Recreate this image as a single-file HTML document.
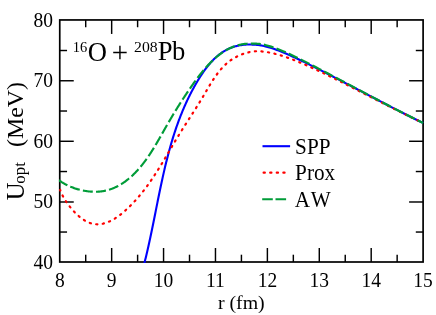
<!DOCTYPE html>
<html><head><meta charset="utf-8"><title>plot</title>
<style>
html,body{margin:0;padding:0;background:#fff;}
body{width:436px;height:315px;overflow:hidden;}
svg{display:block;stroke:none;will-change:transform;font-family:"Liberation Serif",serif;fill:#000;}

</style></head><body>
<svg width="436" height="315" viewBox="0 0 436 315">
<rect x="0" y="0" width="436" height="315" fill="#fff"/>
<defs><clipPath id="c"><rect x="58.85" y="19.05" width="365.15" height="243.85"/></clipPath></defs>
<g stroke="#000" stroke-width="1.45" fill="none">
<line x1="85.70" y1="19.95" x2="85.70" y2="27.25"/>
<line x1="85.70" y1="262.00" x2="85.70" y2="254.70"/>
<line x1="111.66" y1="19.95" x2="111.66" y2="33.95"/>
<line x1="111.66" y1="262.00" x2="111.66" y2="248.00"/>
<line x1="137.61" y1="19.95" x2="137.61" y2="27.25"/>
<line x1="137.61" y1="262.00" x2="137.61" y2="254.70"/>
<line x1="163.56" y1="19.95" x2="163.56" y2="33.95"/>
<line x1="163.56" y1="262.00" x2="163.56" y2="248.00"/>
<line x1="189.52" y1="19.95" x2="189.52" y2="27.25"/>
<line x1="189.52" y1="262.00" x2="189.52" y2="254.70"/>
<line x1="215.47" y1="19.95" x2="215.47" y2="33.95"/>
<line x1="215.47" y1="262.00" x2="215.47" y2="248.00"/>
<line x1="241.43" y1="19.95" x2="241.43" y2="27.25"/>
<line x1="241.43" y1="262.00" x2="241.43" y2="254.70"/>
<line x1="267.38" y1="19.95" x2="267.38" y2="33.95"/>
<line x1="267.38" y1="262.00" x2="267.38" y2="248.00"/>
<line x1="293.33" y1="19.95" x2="293.33" y2="27.25"/>
<line x1="293.33" y1="262.00" x2="293.33" y2="254.70"/>
<line x1="319.29" y1="19.95" x2="319.29" y2="33.95"/>
<line x1="319.29" y1="262.00" x2="319.29" y2="248.00"/>
<line x1="345.24" y1="19.95" x2="345.24" y2="27.25"/>
<line x1="345.24" y1="262.00" x2="345.24" y2="254.70"/>
<line x1="371.19" y1="19.95" x2="371.19" y2="33.95"/>
<line x1="371.19" y1="262.00" x2="371.19" y2="248.00"/>
<line x1="397.15" y1="19.95" x2="397.15" y2="27.25"/>
<line x1="397.15" y1="262.00" x2="397.15" y2="254.70"/>
<line x1="59.75" y1="232.04" x2="67.05" y2="232.04"/>
<line x1="423.10" y1="232.04" x2="415.80" y2="232.04"/>
<line x1="59.75" y1="201.99" x2="73.75" y2="201.99"/>
<line x1="423.10" y1="201.99" x2="409.10" y2="201.99"/>
<line x1="59.75" y1="171.53" x2="67.05" y2="171.53"/>
<line x1="423.10" y1="171.53" x2="415.80" y2="171.53"/>
<line x1="59.75" y1="141.28" x2="73.75" y2="141.28"/>
<line x1="423.10" y1="141.28" x2="409.10" y2="141.28"/>
<line x1="59.75" y1="111.02" x2="67.05" y2="111.02"/>
<line x1="423.10" y1="111.02" x2="415.80" y2="111.02"/>
<line x1="59.75" y1="80.76" x2="73.75" y2="80.76"/>
<line x1="423.10" y1="80.76" x2="409.10" y2="80.76"/>
<line x1="59.75" y1="50.51" x2="67.05" y2="50.51"/>
<line x1="423.10" y1="50.51" x2="415.80" y2="50.51"/>
</g>
<rect x="59.75" y="19.95" width="363.35" height="242.05" fill="none" stroke="#000" stroke-width="1.7"/>
<g clip-path="url(#c)" fill="none" stroke-linejoin="round">
<path d="M144.09 264.27 L144.28 263.54 L144.47 262.80 L144.66 262.07 L144.84 261.33 L145.03 260.59 L145.21 259.86 L145.39 259.12 L145.57 258.38 L145.75 257.64 L145.93 256.90 L146.11 256.16 L146.29 255.42 L146.47 254.68 L146.64 253.94 L146.82 253.20 L146.99 252.46 L147.17 251.71 L147.34 250.97 L147.51 250.23 L147.68 249.48 L147.85 248.74 L148.02 248.00 L148.19 247.25 L148.36 246.51 L148.52 245.76 L148.69 245.01 L148.85 244.27 L149.02 243.52 L149.18 242.77 L149.35 242.03 L149.51 241.28 L149.67 240.53 L149.83 239.78 L150.00 239.03 L150.16 238.28 L150.32 237.54 L150.48 236.79 L150.64 236.04 L150.79 235.29 L150.95 234.53 L151.11 233.78 L151.27 233.03 L151.42 232.28 L151.58 231.53 L151.74 230.78 L151.89 230.03 L152.05 229.27 L152.20 228.52 L152.36 227.77 L152.51 227.02 L152.66 226.26 L152.82 225.51 L152.97 224.76 L153.12 224.00 L153.28 223.25 L153.43 222.49 L153.58 221.74 L153.73 220.98 L153.88 220.23 L154.04 219.47 L154.19 218.72 L154.34 217.96 L154.49 217.21 L154.64 216.45 L154.79 215.70 L154.94 214.94 L155.09 214.19 L155.25 213.43 L155.40 212.67 L155.55 211.92 L155.70 211.16 L155.85 210.41 L156.00 209.65 L156.15 208.89 L156.30 208.14 L156.45 207.38 L156.60 206.62 L156.75 205.87 L156.91 205.11 L157.06 204.35 L157.21 203.60 L157.36 202.84 L157.51 202.08 L157.66 201.33 L157.82 200.57 L157.97 199.81 L158.12 199.06 L158.28 198.30 L158.43 197.54 L158.58 196.79 L158.74 196.03 L158.89 195.27 L159.05 194.52 L159.20 193.76 L159.36 193.00 L159.51 192.25 L159.67 191.49 L159.82 190.73 L159.98 189.98 L160.14 189.22 L160.30 188.47 L160.46 187.71 L160.61 186.96 L160.77 186.20 L160.93 185.44 L161.10 184.69 L161.26 183.93 L161.42 183.18 L161.58 182.42 L161.74 181.67 L161.91 180.92 L162.07 180.16 L162.24 179.41 L162.40 178.65 L162.57 177.90 L162.73 177.15 L162.90 176.39 L163.07 175.64 L163.24 174.89 L163.41 174.13 L163.58 173.38 L163.75 172.63 L163.92 171.88 L164.10 171.12 L164.27 170.37 L164.44 169.62 L164.62 168.87 L164.80 168.12 L164.97 167.37 L165.15 166.62 L165.33 165.87 L165.51 165.12 L165.69 164.37 L165.88 163.62 L166.06 162.87 L166.24 162.12 L166.43 161.38 L166.61 160.63 L166.80 159.88 L166.99 159.13 L167.18 158.39 L167.37 157.64 L167.56 156.90 L167.75 156.15 L167.95 155.40 L168.14 154.66 L168.34 153.92 L168.54 153.17 L168.74 152.43 L168.94 151.68 L169.14 150.94 L169.34 150.20 L169.54 149.46 L169.75 148.72 L169.96 147.98 L170.16 147.23 L170.37 146.49 L170.58 145.76 L170.79 145.02 L171.01 144.28 L171.22 143.54 L171.44 142.80 L171.66 142.06 L171.87 141.33 L172.10 140.59 L172.32 139.86 L172.54 139.12 L172.77 138.39 L172.99 137.65 L173.22 136.92 L173.45 136.18 L173.68 135.45 L173.91 134.72 L174.15 133.99 L174.38 133.26 L174.62 132.53 L174.86 131.80 L175.10 131.07 L175.34 130.34 L175.59 129.61 L175.83 128.89 L176.08 128.16 L176.33 127.43 L176.58 126.71 L176.83 125.98 L177.09 125.26 L177.35 124.54 L177.60 123.81 L177.86 123.09 L178.13 122.37 L178.39 121.65 L178.66 120.93 L178.92 120.21 L179.19 119.49 L179.47 118.77 L179.74 118.05 L180.02 117.34 L180.29 116.62 L180.57 115.91 L180.85 115.19 L181.14 114.48 L181.42 113.77 L181.71 113.05 L182.00 112.34 L182.29 111.63 L182.59 110.92 L182.88 110.21 L183.18 109.50 L183.48 108.80 L183.78 108.09 L184.09 107.38 L184.40 106.68 L184.70 105.97 L185.02 105.27 L185.33 104.57 L185.65 103.86 L185.96 103.16 L186.28 102.46 L186.61 101.76 L186.93 101.06 L187.26 100.37 L187.59 99.67 L187.92 98.97 L188.26 98.28 L188.59 97.58 L188.93 96.89 L189.27 96.20 L189.62 95.51 L189.96 94.82 L190.31 94.13 L190.67 93.44 L191.02 92.75 L191.38 92.06 L191.74 91.38 L192.10 90.69 L192.46 90.01 L192.83 89.33 L193.20 88.64 L193.57 87.96 L193.95 87.28 L194.32 86.60 L194.70 85.92 L195.09 85.25 L195.47 84.57 L195.86 83.90 L196.25 83.22 L196.65 82.55 L197.04 81.88 L197.44 81.21 L197.84 80.54 L198.25 79.87 L198.66 79.20 L199.07 78.53 L199.48 77.87 L199.90 77.21 L200.32 76.55 L200.74 75.89 L201.17 75.24 L201.60 74.58 L202.03 73.93 L202.47 73.29 L202.91 72.64 L203.35 72.00 L203.80 71.37 L204.25 70.73 L204.70 70.10 L205.16 69.48 L205.62 68.85 L206.09 68.24 L206.56 67.62 L207.03 67.01 L207.51 66.41 L207.99 65.81 L208.48 65.22 L208.97 64.63 L209.46 64.05 L209.96 63.47 L210.46 62.90 L210.97 62.33 L211.48 61.77 L211.99 61.21 L212.51 60.67 L213.04 60.13 L213.57 59.59 L214.10 59.06 L214.64 58.54 L215.18 58.03 L215.73 57.52 L216.28 57.02 L216.84 56.53 L217.41 56.05 L217.97 55.57 L218.55 55.11 L219.12 54.65 L219.71 54.20 L220.30 53.76 L220.89 53.32 L221.49 52.90 L222.09 52.48 L222.70 52.08 L223.32 51.68 L223.94 51.30 L224.57 50.92 L225.20 50.55 L225.84 50.20 L226.48 49.85 L227.13 49.51 L227.79 49.19 L228.45 48.87 L229.11 48.57 L229.79 48.28 L230.47 48.00 L231.15 47.72 L231.84 47.47 L232.54 47.22 L233.24 46.98 L233.95 46.76 L234.66 46.54 L235.38 46.34 L236.10 46.14 L236.83 45.96 L237.56 45.79 L238.30 45.63 L239.04 45.48 L239.78 45.34 L240.53 45.21 L241.28 45.09 L242.03 44.98 L242.79 44.89 L243.55 44.80 L244.32 44.72 L245.09 44.65 L245.86 44.60 L246.63 44.55 L247.40 44.51 L248.18 44.50 L248.96 44.51 L249.74 44.52 L250.52 44.54 L251.30 44.55 L252.09 44.58 L252.88 44.61 L253.66 44.64 L254.45 44.68 L255.24 44.74 L256.03 44.80 L256.82 44.87 L257.61 44.95 L258.40 45.05 L259.19 45.15 L259.98 45.26 L260.77 45.39 L261.56 45.53 L262.34 45.68 L263.13 45.84 L263.92 46.01 L265.42 46.36 L268.42 47.15 L271.42 48.06 L274.42 49.06 L277.42 50.14 L280.42 51.30 L283.42 52.52 L286.42 53.79 L289.42 55.10 L292.42 56.45 L295.42 57.83 L298.42 59.25 L301.42 60.68 L304.42 62.14 L307.42 63.61 L310.42 65.10 L313.42 66.60 L316.42 68.11 L319.42 69.63 L322.42 71.15 L325.42 72.69 L328.42 74.23 L331.42 75.77 L334.42 77.32 L337.42 78.88 L340.42 80.44 L343.42 82.00 L346.42 83.56 L349.42 85.13 L352.42 86.70 L355.42 88.27 L358.42 89.84 L361.42 91.41 L364.42 92.98 L367.42 94.56 L370.42 96.13 L373.42 97.70 L376.42 99.27 L379.42 100.83 L382.42 102.40 L385.42 103.96 L388.42 105.51 L391.42 107.06 L394.42 108.61 L397.42 110.14 L400.42 111.68 L403.42 113.20 L406.42 114.72 L409.42 116.22 L412.42 117.72 L415.42 119.22 L418.42 120.70 L421.42 122.17 L423.10 122.99" stroke="#0000ff" stroke-width="2.1"/>
<path d="M60.16 189.92 L60.37 190.52 L60.60 191.12 L60.84 191.75 L61.11 192.38 L61.39 193.03 L61.69 193.69 L62.01 194.36 L62.35 195.04 L62.70 195.73 L63.07 196.43 L63.46 197.14 L63.86 197.85 L64.27 198.57 L64.71 199.29 L65.15 200.02 L65.62 200.75 L66.09 201.49 L66.58 202.22 L67.09 202.96 L67.60 203.70 L68.13 204.43 L68.67 205.17 L69.23 205.90 L69.79 206.63 L70.37 207.36 L70.96 208.08 L71.55 208.80 L72.16 209.51 L72.78 210.21 L73.41 210.91 L74.05 211.60 L74.69 212.28 L75.35 212.94 L76.01 213.60 L76.68 214.24 L77.36 214.88 L78.04 215.49 L78.73 216.10 L79.43 216.69 L80.13 217.26 L80.84 217.82 L81.56 218.35 L82.28 218.88 L83.00 219.38 L83.73 219.86 L84.46 220.32 L85.20 220.76 L85.94 221.17 L86.68 221.56 L87.42 221.93 L88.17 222.28 L88.92 222.60 L89.67 222.89 L90.42 223.15 L91.17 223.39 L91.92 223.60 L92.67 223.77 L93.43 223.93 L94.18 224.05 L94.93 224.15 L95.68 224.22 L96.44 224.27 L97.19 224.29 L97.94 224.29 L98.69 224.26 L99.44 224.21 L100.19 224.14 L100.94 224.04 L101.69 223.92 L102.44 223.78 L103.18 223.62 L103.93 223.43 L104.67 223.23 L105.41 223.01 L106.15 222.77 L106.89 222.50 L107.63 222.22 L108.37 221.93 L109.10 221.61 L109.83 221.28 L110.56 220.93 L111.29 220.56 L112.01 220.18 L112.74 219.79 L113.46 219.38 L114.17 218.95 L114.89 218.51 L115.60 218.06 L116.31 217.60 L117.02 217.12 L117.72 216.63 L118.42 216.13 L119.12 215.62 L119.81 215.10 L120.50 214.57 L121.19 214.03 L121.87 213.48 L122.55 212.92 L123.22 212.36 L123.89 211.79 L124.56 211.21 L125.22 210.62 L125.88 210.03 L126.53 209.43 L127.18 208.83 L127.83 208.22 L128.47 207.61 L129.10 207.00 L129.73 206.38 L130.36 205.76 L130.98 205.13 L131.59 204.51 L132.20 203.88 L132.81 203.25 L133.41 202.61 L134.00 201.98 L134.59 201.34 L135.18 200.70 L135.76 200.06 L136.34 199.41 L136.92 198.76 L137.48 198.11 L138.05 197.46 L138.61 196.81 L139.17 196.15 L139.72 195.49 L140.27 194.83 L140.81 194.17 L141.36 193.51 L141.89 192.84 L142.43 192.17 L142.96 191.50 L143.48 190.83 L144.01 190.16 L144.52 189.48 L145.04 188.81 L145.55 188.13 L146.06 187.45 L146.57 186.76 L147.07 186.08 L147.57 185.39 L148.07 184.71 L148.56 184.02 L149.05 183.33 L149.54 182.64 L150.03 181.94 L150.51 181.25 L150.99 180.55 L151.47 179.85 L151.94 179.16 L152.41 178.46 L152.88 177.76 L153.35 177.05 L153.82 176.35 L154.28 175.64 L154.74 174.94 L155.20 174.23 L155.66 173.52 L156.11 172.81 L156.57 172.10 L157.02 171.39 L157.47 170.68 L157.92 169.97 L158.36 169.26 L158.81 168.54 L159.25 167.83 L159.69 167.11 L160.13 166.39 L160.57 165.68 L161.01 164.96 L161.45 164.24 L161.88 163.52 L162.32 162.80 L162.75 162.08 L163.18 161.36 L163.61 160.64 L164.04 159.91 L164.47 159.19 L164.90 158.47 L165.33 157.75 L165.76 157.02 L166.19 156.30 L166.62 155.58 L167.04 154.85 L167.47 154.13 L167.90 153.40 L168.32 152.68 L168.75 151.95 L169.17 151.23 L169.60 150.50 L170.03 149.78 L170.45 149.05 L170.88 148.33 L171.31 147.60 L171.73 146.88 L172.16 146.16 L172.59 145.43 L173.02 144.71 L173.45 143.98 L173.87 143.26 L174.31 142.54 L174.74 141.82 L175.17 141.09 L175.60 140.37 L176.03 139.65 L176.47 138.93 L176.91 138.21 L177.34 137.49 L177.78 136.77 L178.22 136.05 L178.66 135.33 L179.10 134.62 L179.55 133.90 L179.99 133.18 L180.44 132.47 L180.88 131.75 L181.33 131.04 L181.78 130.32 L182.23 129.61 L182.68 128.90 L183.13 128.18 L183.59 127.47 L184.04 126.76 L184.49 126.04 L184.95 125.33 L185.40 124.62 L185.86 123.90 L186.32 123.19 L186.77 122.48 L187.23 121.77 L187.69 121.05 L188.15 120.34 L188.60 119.63 L189.06 118.91 L189.52 118.20 L189.98 117.49 L190.44 116.77 L190.90 116.06 L191.35 115.34 L191.81 114.63 L192.27 113.91 L192.73 113.19 L193.19 112.47 L193.65 111.76 L194.10 111.04 L194.56 110.32 L195.02 109.60 L195.47 108.88 L195.93 108.16 L196.38 107.43 L196.84 106.71 L197.29 105.98 L197.74 105.26 L198.19 104.53 L198.64 103.81 L199.09 103.08 L199.54 102.35 L199.99 101.62 L200.44 100.88 L200.88 100.15 L201.33 99.41 L201.77 98.68 L202.21 97.94 L202.65 97.20 L203.09 96.46 L203.53 95.72 L203.97 94.98 L204.41 94.23 L204.84 93.49 L205.28 92.75 L205.71 92.00 L206.15 91.26 L206.58 90.51 L207.02 89.77 L207.46 89.02 L207.90 88.28 L208.33 87.54 L208.77 86.80 L209.22 86.06 L209.66 85.33 L210.10 84.59 L210.55 83.86 L211.00 83.13 L211.45 82.40 L211.91 81.68 L212.37 80.96 L212.83 80.24 L213.29 79.53 L213.76 78.82 L214.23 78.12 L214.71 77.41 L215.19 76.72 L215.67 76.03 L216.16 75.34 L216.65 74.66 L217.15 73.98 L217.66 73.31 L218.17 72.65 L218.68 71.99 L219.20 71.34 L219.73 70.69 L220.26 70.05 L220.80 69.42 L221.35 68.79 L221.90 68.18 L222.46 67.57 L223.03 66.97 L223.61 66.37 L224.19 65.79 L224.78 65.21 L225.38 64.64 L225.99 64.08 L226.60 63.53 L227.23 62.99 L227.86 62.46 L228.51 61.94 L229.16 61.43 L229.82 60.93 L230.49 60.44 L231.17 59.96 L231.87 59.50 L232.57 59.04 L233.27 58.59 L233.99 58.16 L234.72 57.74 L235.45 57.33 L236.19 56.93 L236.94 56.54 L237.70 56.16 L238.46 55.80 L239.23 55.45 L240.01 55.11 L240.79 54.78 L241.58 54.47 L242.38 54.17 L243.18 53.88 L243.98 53.60 L244.79 53.34 L245.60 53.09 L246.42 52.86 L247.24 52.64 L248.07 52.43 L248.90 52.22 L249.73 52.04 L250.57 51.87 L251.41 51.72 L252.25 51.58 L253.09 51.47 L253.93 51.38 L254.78 51.30 L255.63 51.25 L256.47 51.22 L257.32 51.21 L258.17 51.21 L259.02 51.24 L259.87 51.29 L260.72 51.35 L261.57 51.43 L262.42 51.51 L263.26 51.59 L264.76 51.77 L267.76 52.22 L270.76 52.79 L273.76 53.47 L276.76 54.25 L279.76 55.10 L282.76 56.04 L285.76 57.04 L288.76 58.10 L291.76 59.22 L294.76 60.39 L297.76 61.60 L300.76 62.85 L303.76 64.13 L306.76 65.44 L309.76 66.79 L312.76 68.15 L315.76 69.54 L318.76 70.95 L321.76 72.38 L324.76 73.82 L327.76 75.28 L330.76 76.75 L333.76 78.23 L336.76 79.72 L339.76 81.22 L342.76 82.73 L345.76 84.24 L348.76 85.76 L351.76 87.28 L354.76 88.80 L357.76 90.33 L360.76 91.86 L363.76 93.39 L366.76 94.93 L369.76 96.46 L372.76 97.99 L375.76 99.52 L378.76 101.05 L381.76 102.57 L384.76 104.10 L387.76 105.62 L390.76 107.13 L393.76 108.65 L396.76 110.15 L399.76 111.65 L402.76 113.15 L405.76 114.64 L408.76 116.12 L411.76 117.60 L414.76 119.07 L417.76 120.53 L420.76 121.99 L423.10 123.11" stroke="#ff0000" stroke-width="2.2" stroke-linecap="round" stroke-dasharray="1.25 5.33" stroke-dashoffset="0.62"/>
<path d="M58.78 180.21 L59.42 180.65 L60.07 181.09 L60.73 181.52 L61.40 181.94 L62.07 182.36 L62.75 182.76 L63.43 183.16 L64.13 183.55 L64.82 183.94 L65.53 184.31 L66.23 184.68 L66.95 185.03 L67.67 185.38 L68.39 185.73 L69.12 186.06 L69.85 186.38 L70.59 186.70 L71.33 187.00 L72.08 187.30 L72.83 187.59 L73.58 187.87 L74.34 188.14 L75.10 188.40 L75.86 188.65 L76.63 188.89 L77.40 189.13 L78.17 189.35 L78.95 189.57 L79.72 189.77 L80.50 189.97 L81.28 190.15 L82.06 190.33 L82.85 190.49 L83.63 190.65 L84.42 190.79 L85.20 190.93 L85.99 191.05 L86.78 191.17 L87.57 191.27 L88.35 191.37 L89.14 191.45 L89.93 191.53 L90.72 191.59 L91.51 191.64 L92.29 191.68 L93.08 191.71 L93.86 191.73 L94.64 191.74 L95.42 191.74 L96.20 191.73 L96.98 191.70 L97.76 191.67 L98.53 191.62 L99.30 191.56 L100.07 191.49 L100.83 191.41 L101.60 191.31 L102.35 191.21 L103.11 191.09 L103.86 190.96 L104.61 190.82 L105.35 190.67 L106.09 190.51 L106.83 190.33 L107.56 190.14 L108.29 189.94 L109.01 189.73 L109.73 189.50 L110.45 189.27 L111.16 189.02 L111.86 188.77 L112.56 188.50 L113.26 188.22 L113.95 187.93 L114.64 187.63 L115.33 187.32 L116.01 187.00 L116.68 186.67 L117.36 186.34 L118.02 185.99 L118.69 185.63 L119.35 185.26 L120.00 184.89 L120.65 184.50 L121.30 184.11 L121.94 183.70 L122.58 183.29 L123.21 182.87 L123.84 182.45 L124.47 182.01 L125.09 181.57 L125.70 181.12 L126.31 180.66 L126.92 180.19 L127.52 179.72 L128.12 179.24 L128.72 178.75 L129.31 178.26 L129.90 177.76 L130.48 177.25 L131.05 176.74 L131.63 176.22 L132.20 175.70 L132.76 175.17 L133.32 174.63 L133.88 174.09 L134.43 173.54 L134.98 172.99 L135.52 172.43 L136.06 171.87 L136.59 171.30 L137.12 170.73 L137.65 170.16 L138.17 169.58 L138.69 168.99 L139.20 168.41 L139.71 167.81 L140.21 167.22 L140.71 166.62 L141.21 166.02 L141.70 165.41 L142.19 164.80 L142.68 164.19 L143.16 163.57 L143.64 162.95 L144.11 162.33 L144.58 161.70 L145.05 161.07 L145.51 160.44 L145.97 159.81 L146.43 159.17 L146.88 158.53 L147.33 157.89 L147.78 157.24 L148.22 156.59 L148.67 155.94 L149.11 155.29 L149.54 154.64 L149.98 153.98 L150.41 153.32 L150.84 152.66 L151.26 152.00 L151.69 151.34 L152.11 150.67 L152.53 150.00 L152.94 149.34 L153.36 148.67 L153.77 147.99 L154.18 147.32 L154.59 146.65 L155.00 145.97 L155.40 145.30 L155.81 144.62 L156.21 143.94 L156.61 143.26 L157.01 142.58 L157.41 141.90 L157.80 141.22 L158.20 140.54 L158.59 139.86 L158.99 139.17 L159.38 138.49 L159.77 137.81 L160.16 137.13 L160.55 136.44 L160.94 135.76 L161.32 135.08 L161.71 134.40 L162.10 133.71 L162.48 133.03 L162.87 132.35 L163.25 131.67 L163.64 130.99 L164.02 130.31 L164.41 129.63 L164.79 128.96 L165.18 128.28 L165.56 127.60 L165.95 126.93 L166.33 126.26 L166.72 125.58 L167.10 124.91 L167.49 124.24 L167.88 123.57 L168.26 122.91 L168.65 122.24 L169.04 121.58 L169.43 120.91 L169.82 120.25 L170.20 119.59 L170.59 118.93 L170.99 118.27 L171.38 117.61 L171.77 116.95 L172.16 116.29 L172.55 115.63 L172.95 114.98 L173.34 114.32 L173.74 113.67 L174.13 113.02 L174.53 112.36 L174.93 111.71 L175.33 111.06 L175.72 110.41 L176.13 109.76 L176.53 109.11 L176.93 108.46 L177.33 107.81 L177.74 107.16 L178.14 106.51 L178.55 105.86 L178.96 105.22 L179.36 104.57 L179.77 103.92 L180.19 103.28 L180.60 102.63 L181.01 101.98 L181.43 101.34 L181.84 100.69 L182.26 100.05 L182.68 99.40 L183.10 98.75 L183.52 98.11 L183.94 97.46 L184.37 96.82 L184.79 96.17 L185.22 95.53 L185.65 94.88 L186.08 94.24 L186.51 93.59 L186.95 92.94 L187.38 92.30 L187.82 91.65 L188.26 91.01 L188.70 90.36 L189.14 89.71 L189.59 89.06 L190.03 88.41 L190.48 87.77 L190.93 87.12 L191.38 86.47 L191.83 85.82 L192.29 85.17 L192.75 84.52 L193.21 83.87 L193.67 83.22 L194.13 82.57 L194.60 81.92 L195.06 81.27 L195.53 80.62 L196.01 79.97 L196.48 79.33 L196.96 78.68 L197.44 78.04 L197.92 77.40 L198.40 76.76 L198.89 76.12 L199.38 75.48 L199.87 74.85 L200.36 74.22 L200.86 73.59 L201.36 72.96 L201.86 72.33 L202.36 71.71 L202.87 71.09 L203.38 70.48 L203.89 69.86 L204.41 69.25 L204.92 68.65 L205.44 68.05 L205.97 67.45 L206.49 66.85 L207.02 66.26 L207.56 65.68 L208.09 65.10 L208.63 64.52 L209.17 63.95 L209.72 63.38 L210.26 62.82 L210.82 62.26 L211.37 61.71 L211.93 61.16 L212.49 60.62 L213.05 60.08 L213.62 59.55 L214.19 59.03 L214.77 58.51 L215.34 58.00 L215.92 57.50 L216.51 57.00 L217.10 56.51 L217.69 56.02 L218.29 55.55 L218.88 55.08 L219.49 54.61 L220.09 54.16 L220.70 53.71 L221.32 53.27 L221.94 52.84 L222.56 52.41 L223.19 52.00 L223.82 51.59 L224.45 51.19 L225.09 50.80 L225.73 50.42 L226.37 50.04 L227.02 49.68 L227.68 49.33 L228.34 48.98 L229.00 48.64 L229.67 48.32 L230.34 48.00 L231.01 47.69 L231.69 47.40 L232.38 47.11 L233.06 46.84 L233.76 46.57 L234.45 46.32 L235.16 46.07 L235.86 45.84 L236.57 45.62 L237.29 45.41 L238.01 45.21 L238.73 45.02 L239.46 44.84 L240.20 44.68 L240.94 44.53 L241.68 44.39 L242.43 44.26 L243.18 44.14 L243.93 44.03 L244.69 43.94 L245.46 43.85 L246.22 43.78 L246.99 43.72 L247.76 43.66 L248.54 43.64 L249.32 43.63 L250.10 43.61 L250.88 43.60 L251.66 43.58 L252.45 43.58 L253.24 43.58 L254.03 43.58 L254.82 43.60 L255.61 43.62 L256.40 43.66 L257.20 43.71 L257.99 43.77 L258.79 43.84 L259.58 43.92 L260.38 44.02 L261.18 44.14 L261.97 44.27 L262.77 44.42 L263.56 44.58 L265.06 44.92 L268.06 45.70 L271.06 46.61 L274.06 47.63 L277.06 48.74 L280.06 49.93 L283.06 51.18 L286.06 52.49 L289.06 53.85 L292.06 55.24 L295.06 56.67 L298.06 58.13 L301.06 59.61 L304.06 61.12 L307.06 62.64 L310.06 64.17 L313.06 65.71 L316.06 67.27 L319.06 68.83 L322.06 70.40 L325.06 71.97 L328.06 73.55 L331.06 75.13 L334.06 76.72 L337.06 78.30 L340.06 79.89 L343.06 81.48 L346.06 83.08 L349.06 84.67 L352.06 86.26 L355.06 87.86 L358.06 89.45 L361.06 91.04 L364.06 92.63 L367.06 94.22 L370.06 95.81 L373.06 97.40 L376.06 98.98 L379.06 100.56 L382.06 102.13 L385.06 103.70 L388.06 105.27 L391.06 106.83 L394.06 108.38 L397.06 109.92 L400.06 111.46 L403.06 112.99 L406.06 114.51 L409.06 116.03 L412.06 117.53 L415.06 119.03 L418.06 120.51 L421.06 121.99 L423.10 122.98" stroke="#009c38" stroke-width="2.15" stroke-dasharray="9.98 3.22"/>
</g>
<g font-size="19.5px">
<text transform="translate(59.75 286.55) scale(1 1.04)" text-anchor="middle">8</text>
<text transform="translate(111.66 286.55) scale(1 1.04)" text-anchor="middle">9</text>
<text transform="translate(163.56 286.55) scale(1 1.04)" text-anchor="middle">10</text>
<text transform="translate(215.47 286.55) scale(1 1.04)" text-anchor="middle">11</text>
<text transform="translate(267.38 286.55) scale(1 1.04)" text-anchor="middle">12</text>
<text transform="translate(319.29 286.55) scale(1 1.04)" text-anchor="middle">13</text>
<text transform="translate(371.19 286.55) scale(1 1.04)" text-anchor="middle">14</text>
<text transform="translate(423.10 286.55) scale(1 1.04)" text-anchor="middle">15</text>
<text transform="translate(52.9 268.65) scale(1 1.05)" text-anchor="end">40</text>
<text transform="translate(52.9 208.14) scale(1 1.05)" text-anchor="end">50</text>
<text transform="translate(52.9 147.62) scale(1 1.05)" text-anchor="end">60</text>
<text transform="translate(52.9 87.11) scale(1 1.05)" text-anchor="end">70</text>
<text transform="translate(52.9 26.60) scale(1 1.05)" text-anchor="end">80</text>
</g>
<text x="241.3" y="308.7" font-size="19.85px" text-anchor="middle">r (fm)</text>
<g transform="translate(23.2 200.2) rotate(-90)"><text x="-0.1" y="0.4" font-size="24.6px">U</text><text x="16.5" y="1.9" font-size="17px">opt</text><text x="53.3" y="0" font-size="23.8px">(MeV)</text></g>
<g font-size="26.6px"><text transform="translate(87.7 60.7) scale(1 1.03)">O</text><text x="111.8" y="62.0" font-size="29px">+</text><text x="157.7" y="60.35">P</text><text x="172.1" y="60.35">b</text></g>
<g font-size="15.4px" class="ns"><text x="72.7" y="51.8" textLength="14.5" lengthAdjust="spacingAndGlyphs">16</text><text x="134.1" y="51.8" textLength="23.6" lengthAdjust="spacingAndGlyphs">208</text></g>
<g fill="none">
<line x1="262.5" y1="146.2" x2="290.1" y2="146.2" stroke="#0000ff" stroke-width="2.1"/>
<line x1="263.6" y1="172.7" x2="286" y2="172.7" stroke="#ff0000" stroke-width="2.2" stroke-linecap="round" stroke-dasharray="1.25 5.33"/>
<line x1="262.2" y1="199.2" x2="290" y2="199.2" stroke="#009c38" stroke-width="2.1" stroke-dasharray="10.6 2.7 10.6 100"/>
</g>
<g font-size="21.2px">
<text transform="translate(295.1 153.6) scale(1 1.10)">SPP</text>
<text transform="translate(295.1 180.1) scale(1 1.10)">Prox</text>
<text transform="translate(294.7 206.6) scale(1 1.10)">A</text>
<text transform="translate(310.7 206.6) scale(1 1.10)">W</text>
</g>
</svg>
</body></html>
